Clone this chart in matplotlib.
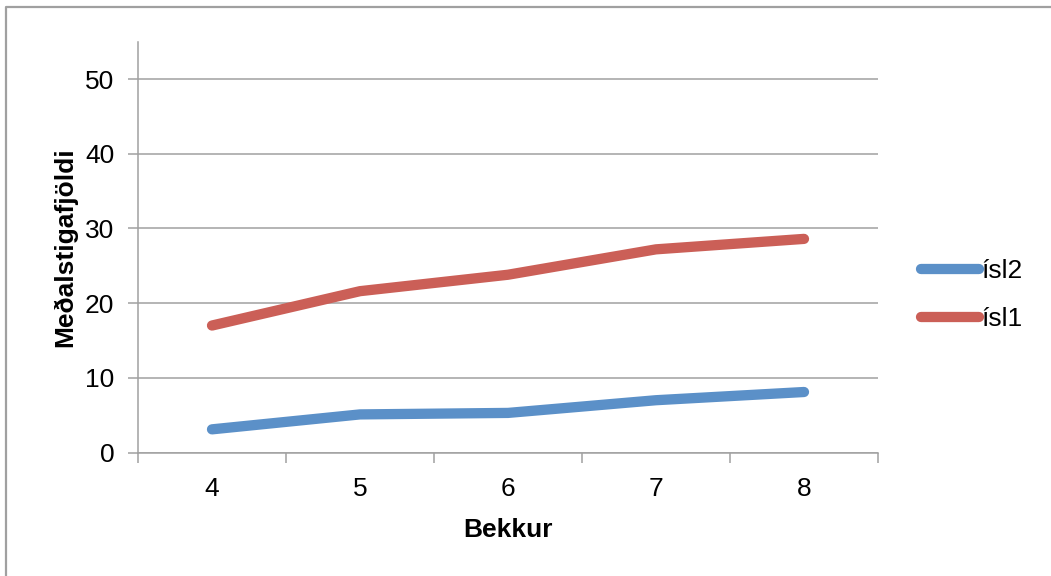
import matplotlib
matplotlib.use("Agg")
import matplotlib.pyplot as plt
from matplotlib.lines import Line2D

# Data
grades = ["4", "5", "6", "7", "8"]
isl2 = [3.1, 5.1, 5.3, 7.0, 8.1]
isl1 = [17.0, 21.6, 23.8, 27.2, 28.6]
series_names = ["ísl2", "ísl1"]
y_ticks = [0, 10, 20, 30, 40, 50]

plt.rcParams["font.family"] = ["Liberation Sans", "DejaVu Sans"]

W, H = 1051, 576
FS = 19
fig = plt.figure(figsize=(W / 100, H / 100), dpi=100)
fig.patch.set_facecolor("white")

ax = fig.add_axes([138 / W, 1 - 452.5 / H, (878 - 138) / W, (452.5 - 41.7) / H])

grid_col = "#A0A0A0"
blue = "#5B90C8"
red = "#CB5F57"

x = list(range(len(grades)))
ax.plot(x, isl2, color=blue, lw=7.4, solid_capstyle="round",
        solid_joinstyle="round", label=series_names[0], zorder=3)
ax.plot(x, isl1, color=red, lw=7.4, solid_capstyle="round",
        solid_joinstyle="round", label=series_names[1], zorder=3)

ax.set_xlim(-0.5, len(grades) - 0.5)
ax.set_ylim(0, 55)

# y axis
ax.set_yticks(y_ticks)
ax.set_yticklabels([str(v) for v in y_ticks], fontsize=FS)
ax.tick_params(axis="y", direction="out", length=7, width=1.1, color=grid_col,
               pad=10)
ax.yaxis.grid(True, color=grid_col, lw=1.1)
ax.set_axisbelow(True)

# x axis: labels at category centres, tick marks between categories
ax.set_xticks(x)
ax.set_xticklabels(grades, fontsize=FS)
ax.tick_params(axis="x", which="major", length=0, pad=17.5)
ax.set_xticks([i - 0.5 for i in range(len(grades) + 1)], minor=True)
ax.tick_params(axis="x", which="minor", direction="out", length=7, width=1.1,
               color=grid_col)

for side in ["top", "right"]:
    ax.spines[side].set_visible(False)
for side in ["left", "bottom"]:
    ax.spines[side].set_color(grid_col)
    ax.spines[side].set_linewidth(1.1)

# axis titles
fig.text(508 / W, 1 - 537 / H, "Bekkur", fontsize=FS, fontweight="bold",
         ha="center", va="baseline")
fig.text(72 / W, 1 - 247 / H, "Meðalstigafjöldi", fontsize=FS,
         fontweight="bold", rotation=90, rotation_mode="anchor",
         ha="center", va="baseline")

leg = fig.legend(loc="center left", bbox_to_anchor=(921 / W, 1 - 295 / H),
                 bbox_transform=fig.transFigure, frameon=False, fontsize=FS,
                 handlelength=2.2, handletextpad=0.1, labelspacing=0.9,
                 borderpad=0, borderaxespad=0)
for h in leg.legend_handles:
    h.set_solid_capstyle("round")

# chart frame (top and left edges)
fig.add_artist(Line2D([5.5 / W, 5.5 / W, 1.0], [0.0, 1 - 6.5 / H, 1 - 6.5 / H],
                      transform=fig.transFigure, color=grid_col, lw=1.6))

fig.savefig("out.png", dpi=100)
